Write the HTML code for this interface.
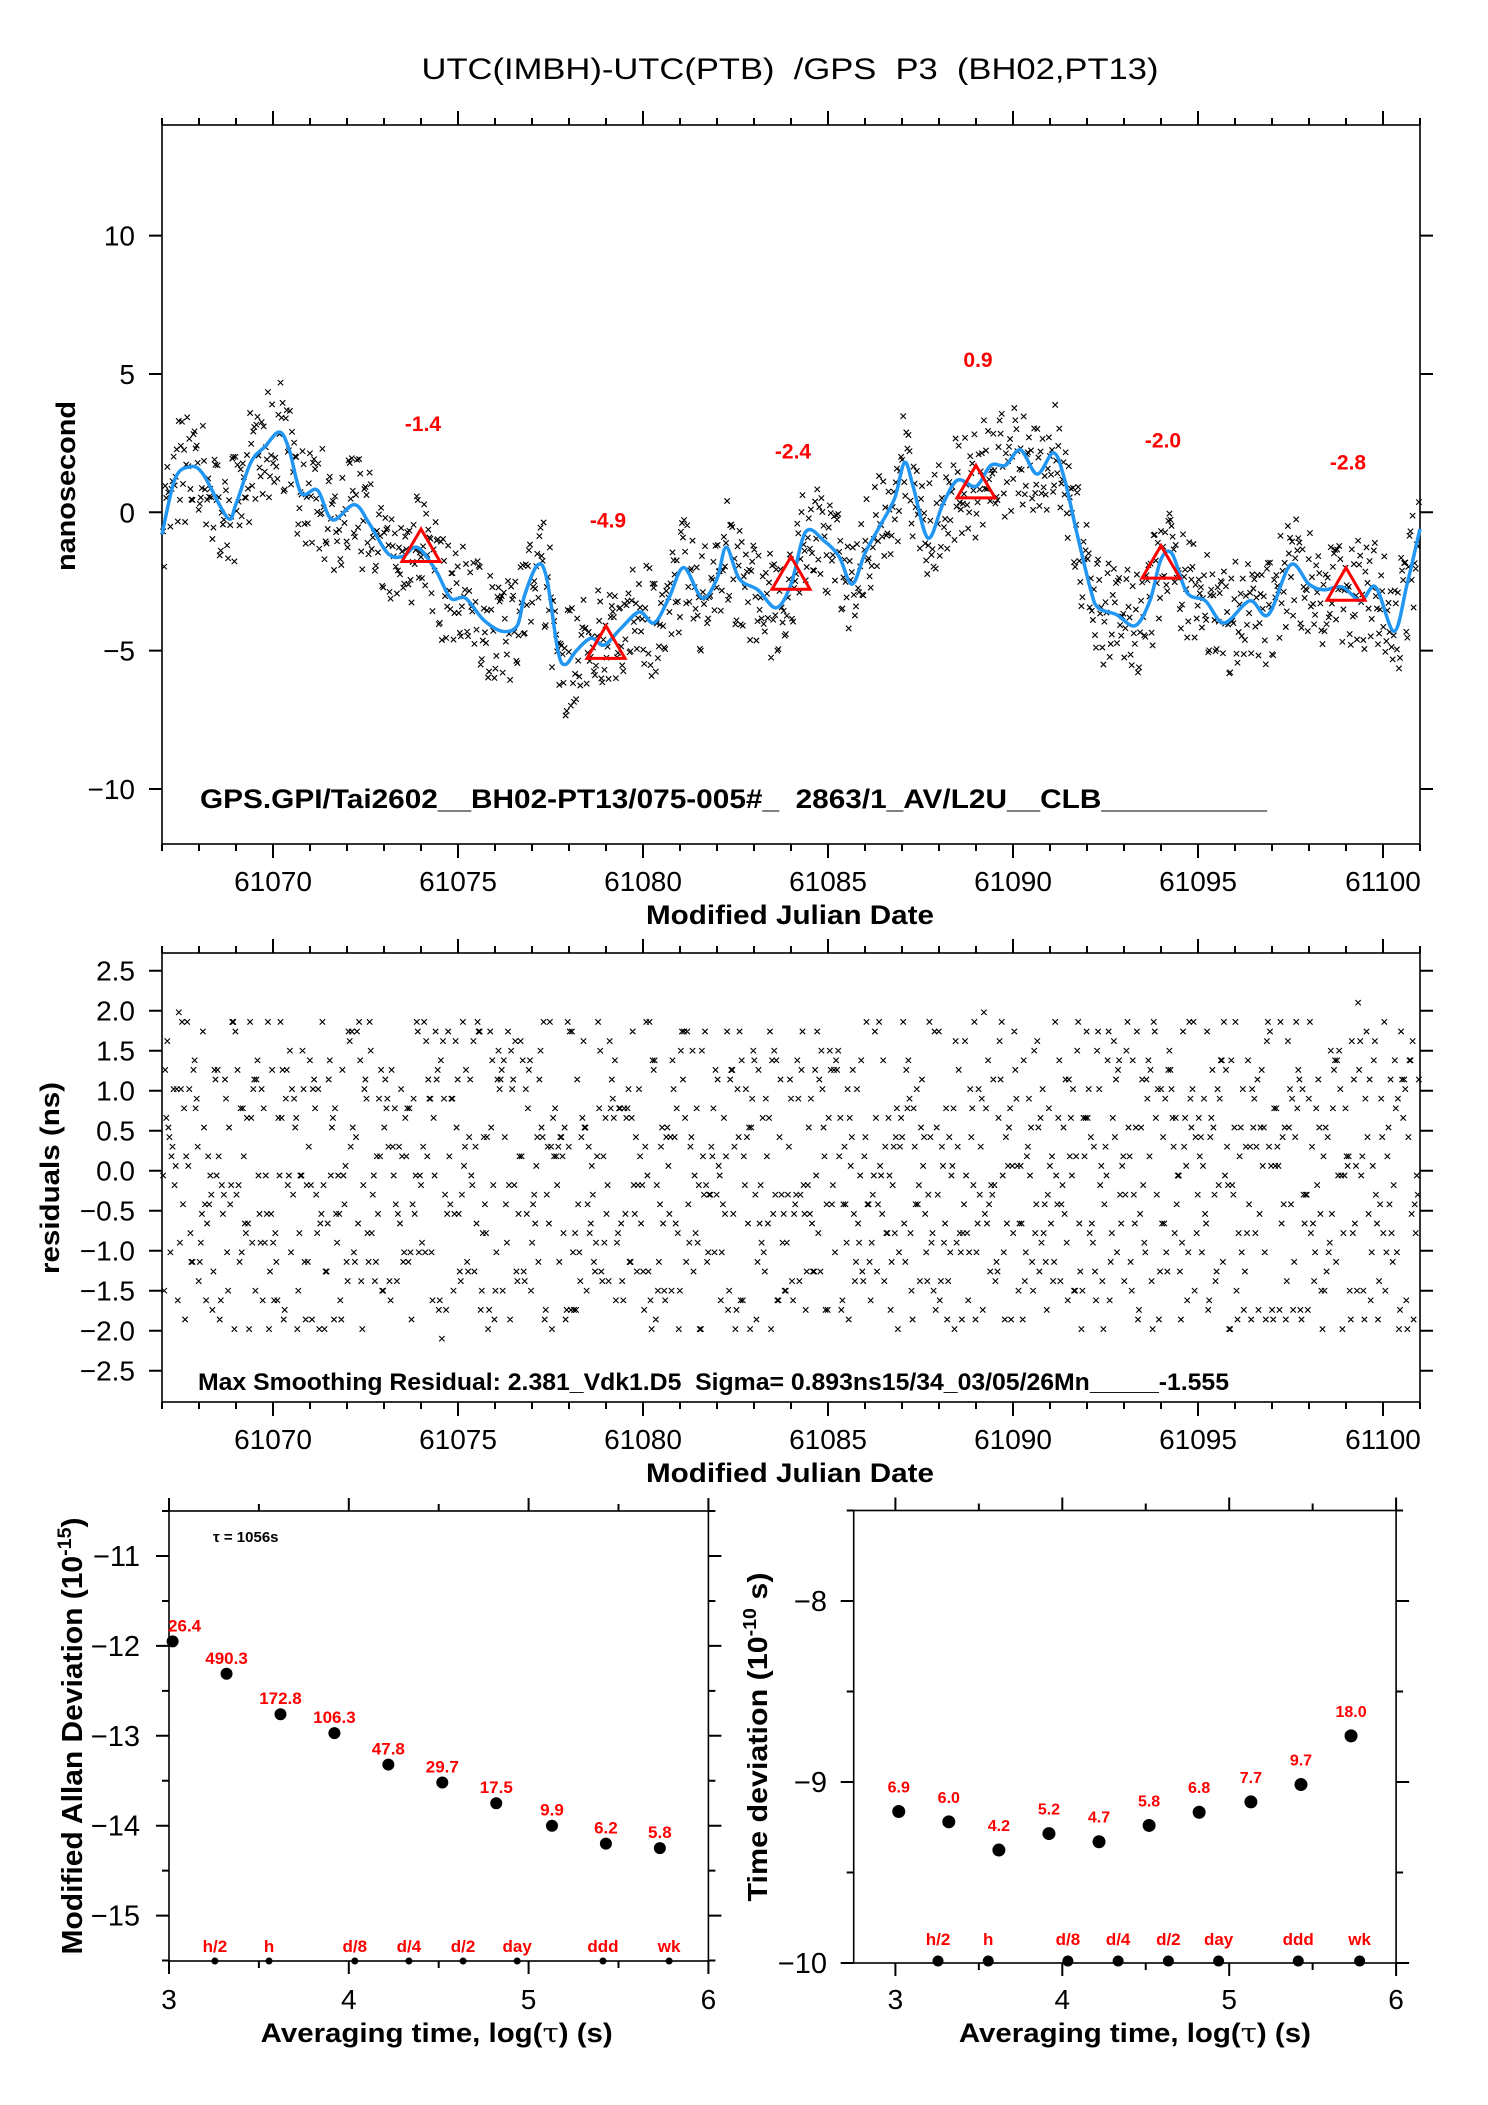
<!DOCTYPE html>
<html><head><meta charset="utf-8"><title>UTC(IMBH)-UTC(PTB) GPS P3</title>
<style>
html,body{margin:0;padding:0;background:#fff;}
svg{display:block;font-family:"Liberation Sans",Arial,sans-serif;}
text{white-space:pre;}
</style></head>
<body>
<svg id="chart" xmlns="http://www.w3.org/2000/svg" width="1488" height="2105" viewBox="0 0 1488 2105">
<rect x="0" y="0" width="1488" height="2105" fill="#fff"/>
<text x="790" y="79" font-size="30" text-anchor="middle" textLength="737" lengthAdjust="spacingAndGlyphs">UTC(IMBH)-UTC(PTB)  /GPS  P3  (BH02,PT13)</text>
<g id="top"></g>
<g id="mid"></g>
<g id="bl"></g>
<g id="br"></g>
</svg>
<script>
// ---- data ----
const smoothDays = [61067.0,61067.35,61067.74,61068.1,61068.77,61069.0,61069.4,61069.8,61070.17,61070.43,61070.76,61071.2,61071.6,61072.2,61072.6,61073.1,61073.5,61073.9,61074.4,61074.8,61075.2,61075.7,61076.2,61076.6,61076.8,61077.15,61077.4,61077.7,61077.9,61078.2,61078.6,61078.95,61079.4,61079.9,61080.3,61080.7,61081.1,61081.6,61082.0,61082.25,61082.6,61083.1,61083.6,61084.0,61084.4,61084.9,61085.3,61085.65,61086.0,61086.4,61086.8,61087.07,61087.3,61087.7,61088.1,61088.5,61089.0,61089.4,61089.8,61090.2,61090.65,61091.1,61091.4,61091.7,61092.1,61092.3,61092.8,61093.3,61093.7,61094.0,61094.3,61094.7,61095.2,61095.7,61096.4,61096.9,61097.5,61098.0,61098.4,61098.9,61099.4,61099.8,61100.3,61100.65,61101.0];
const smoothVals = [-0.8,1.2,1.64,1.4,-0.2,0.3,1.8,2.4,2.9,2.3,0.7,0.8,-0.27,0.28,-0.4,-1.48,-1.6,-1.27,-2.1,-3.1,-3.1,-3.9,-4.3,-4.1,-3.0,-1.9,-2.4,-5.0,-5.5,-5.0,-4.55,-4.8,-4.2,-3.6,-4.0,-3.1,-2.0,-3.1,-2.4,-1.26,-2.4,-2.8,-3.45,-2.6,-0.7,-1.04,-1.6,-2.6,-1.48,-0.5,0.5,1.8,0.94,-0.93,0.28,1.16,0.94,1.7,1.7,2.26,1.38,2.15,1.16,-0.6,-2.8,-3.45,-3.7,-4.1,-3.2,-1.7,-1.5,-2.9,-3.2,-4.0,-3.2,-3.7,-1.9,-2.6,-2.8,-2.7,-3.2,-2.7,-4.3,-2.6,-0.6];
const markDays = [61074,61079,61084,61089,61094,61099];
const markVals = [-1.4,-4.9,-2.4,0.9,-2.0,-2.8];
const markLabels = ["-1.4","-4.9","-2.4","0.9","-2.0","-2.8"];
// residuals encoded: char index in RES_ALPHA -> value (idx-17.5)*0.12 ns
const RES_ALPHA = "0123456789ABCDEFGHIJKLMNOPQRSTUVWXYZ";
const residualCodes = [
"H3Q9LCBT5MRE2RKQ8PGX4NDJ6UFS1OJW7CDVIM3YBL9ZGQ5KTE0NR8HX6AP2",
"MF8SJ4WBO7HCT2QLE9KV5GRA3NXD6IPU1JFL8TCQ4MHW7BSE3OKY5GRN9DJ",
"6TBK2PHX9EMR4LWC7QJF3UGN8ASD5OIV1KHT6BQM9FRL2XEJ4PCW7NGS3UAK",
"R5HD8MQJ2VBL6TFO9CKX4IPS7EGN1WHR3AMJ8QDU5LBT6OFK9XCI2SPG7NEH",
"4KQM7BFW2TJH9RDL5XCO8GSN3PEU6IAK1VHM4QBJ7TFR9DLW2OCS5NGX8EPI",
"J9CT3OHQ6LWB8FSM2RKD5XEP7GIU4NAJ1THB9QMF3KSW6DOL8REC2XJG5PNV",
"8PFN5SKW1GDR4MXB7QJE9TLH3OCV6IAU2KFP8NSD5WGB1RMJ4QEX7HTL9CO3",
"B2LX6EOJ9QHS4TCN7KRF1WDM5PGA8UIB3XLE6JQO9SHC4NTK7FRD2MWP5GVA",
"T7GQ3KNB5WFJ8ORL2DHX6SEM9CPU4IAG1QKT7BNF3JWO5LRD8XHS2EMC6PVI",
"3OWH8DMS1QKF6BRL9XEJ4TGN7PCA2VIU5HOW8MDQ1SKB6FLR9JXE4NTG7CPA",
"E6NJ2RVF8LBQ5TKH3XOD9MGS1WCP7IAE4JNU2FRL8BVQ5HTK3DXO9GMS6WCP",
"K1SD9GHT4QFN7BXL2MOE5WJR8CIA3PUK6DSG1HTQ9NFB4LXM7EOJ2RWC5IAV",
"5BRL7MWE2JDQ8TKO4SHF9XCN1GIA6PVB3RML5WEJ7DQT2KOS8HFX4CNG9IAU",
"Q8HX4NCK6TOF1JRM9WBL3DSE7GPA5IUQ2HXN8KCT6FOJ4MRW1BLD9SEG3PAV",
"W3FM6JKS9BDT2LQX5RHO8ECN4GVI7AUW1FMJ3KSB6TDL9QXR2HOE5CNG8VIA",
"9DJQ2SMH5XBF8KRT3OWL6NEC1GPU4AIJ9DQS7MHX2BFK5RTO8WLN3ECG6PUA",
"N4TB8LHQ1XJF6DWS9KMR2CEO5GIV3APN7TBL4HQX8JFD1WSK6MRC9EOG2IVU",
"G7XK3PLD9BSJ5QHM2TRF8WCO4NEA6IVG1XKP7LDB3SJQ9HMT5RFW2COE8NAU",
"C2MS6HQK8ROB4JXT1LFD7WGN5PEI9AUC3MSH6QKR2OBJ8XTL4FDW1GNP7EIV",
"S9KF3XJB7DMQ1THL5RWN8OCE2GPA4IUS6KFX9JBD3MQT7HLR1WNO5CEG8PAI"
];
const logTau = [3.02,3.32,3.62,3.92,4.22,4.52,4.82,5.13,5.43,5.73];
const mdevVals = [-11.95,-12.31,-12.76,-12.97,-13.32,-13.52,-13.75,-14.0,-14.2,-14.25];
const mdevLabels = ["26.4","490.3","172.8","106.3","47.8","29.7","17.5","9.9","6.2","5.8"];
const tdevVals = [-9.163,-9.22,-9.376,-9.285,-9.33,-9.24,-9.167,-9.11,-9.014,-8.745];
const tdevLabels = ["6.9","6.0","4.2","5.2","4.7","5.8","6.8","7.7","9.7","18.0"];
const refNames = ["h/2","h","d/8","d/4","d/2","day","ddd","wk"];
const refSeconds = [1800,3600,10800,21600,43200,86400,259200,604800];
const topYTicks = [-10,-5,0,5,10];
const midYTicks = [-2.5,-2.0,-1.5,-1.0,-0.5,0.0,0.5,1.0,1.5,2.0,2.5];
const xDayTicks = [61070,61075,61080,61085,61090,61095,61100];
const mdevYTicks = [-15,-14,-13,-12,-11];
const tdevYTicks = [-10,-9,-8];
const logTicks = [3,4,5,6];

// ---- scales ----
const SVGNS = "http://www.w3.org/2000/svg";
const X0 = 162, X1 = 1420, D0 = 61067, D1 = 61101;
const xD = d => X0 + (d - D0) * (X1 - X0) / (D1 - D0);
const TT = 125, TB = 844, yT = v => 512.3 - v * 27.67;
const MT = 953, MB = 1402, yM = v => 1170.7 - v * 80;
const LX0 = 169, LX1 = 708.4, xL = l => LX0 + (l - 3) * (LX1 - LX0) / 3;
const LT = 1511, LB = 1961, yL = v => 1556 - (v + 11) * 89.9;
const RX0 = 853.7, RX1 = 1396.1, xR = l => RX1 - (6 - l) * 166.9;
const RT = 1510.5, RB = 1963, yR = v => 1963 - (v + 10) * 181;

function el(parent, tag, attrs, txt) {
  const e = document.createElementNS(SVGNS, tag);
  for (const k in attrs) e.setAttribute(k, attrs[k]);
  if (txt !== undefined) e.textContent = txt;
  parent.appendChild(e);
  return e;
}
function fmt1(v){ return (v < 0 ? "\u2212" : "") + Math.abs(v).toFixed(1); }
function fmt0(v){ return (v < 0 ? "\u2212" : "") + Math.abs(v).toString(); }

function interp(d) {
  if (d <= smoothDays[0]) return smoothVals[0];
  for (let i = 1; i < smoothDays.length; i++) {
    if (d <= smoothDays[i]) {
      const f = (d - smoothDays[i-1]) / (smoothDays[i] - smoothDays[i-1]);
      return smoothVals[i-1] + f * (smoothVals[i] - smoothVals[i-1]);
    }
  }
  return smoothVals[smoothVals.length - 1];
}
const residuals = residualCodes.join("").split("").map(c => (RES_ALPHA.indexOf(c) - 17.5) * 0.12);
const NR = residuals.length;
// time slot of each residual (interleaved sampling order of the record)
const resDays = residuals.map((r, i) => D0 + 0.03 + ((i * 389) % NR) * (33.94 / (NR - 1)));

function frame(g, x0, y0, x1, y1, name) {
  const r = el(g, "rect", {x:x0, y:y0, width:x1-x0, height:y1-y0, fill:"none", stroke:"#000", "stroke-width":1.6});
  
  
}
function tickPath(g, d, name) {
  const p = el(g, "path", {d:d, stroke:"#000", "stroke-width":2, fill:"none"});
  
  
}
function label(g, x, y, txt, attrs, name) {
  const a = Object.assign({x:x, y:y}, attrs);
  const t = el(g, "text", a, txt);
  
  
  return t;
}
function xMarks(g, xs, ys, name) {
  let d = "";
  for (let i = 0; i < xs.length; i++) {
    const x = xs[i], y = ys[i];
    d += `M${(x-2.7).toFixed(1)},${(y-2.7).toFixed(1)}l5.4,5.4M${(x-2.7).toFixed(1)},${(y+2.7).toFixed(1)}l5.4,-5.4`;
  }
  const p = el(g, "path", {d:d, stroke:"#000", "stroke-width":1.1, fill:"none"});
  
  
}

// ---- day-axis plot helper ----
function dayAxes(g, top, bot, ticksY, yS, fmtY, prefix) {
  frame(g, X0, top, X1, bot, prefix + "-frame");
  let d = "";
  for (let day = D0; day <= D1; day++) {
    const L = day % 5 === 0 ? 14 : 7, x = xD(day);
    d += `M${x},${top}v${-L}M${x},${bot}v${L}`;
  }
  tickPath(g, d, prefix + "-x-ticks");
  d = "";
  ticksY.forEach(v => { const y = yS(v); d += `M${X0-13},${y}h13M${X1},${y}h13`; });
  tickPath(g, d, prefix + "-y-ticks");
  ticksY.forEach(v => label(g, 135, yS(v) + 10, fmtY(v), {"font-size":28, "text-anchor":"end"}, prefix + "-y-tick-label"));
  xDayTicks.forEach(v => label(g, xD(v), bot + 47, String(v), {"font-size":28, "text-anchor":"middle"}, prefix + "-x-tick-label"));
  label(g, 790, bot + 80, "Modified Julian Date", {"font-size":27, "font-weight":"bold", "text-anchor":"middle", textLength:288, lengthAdjust:"spacingAndGlyphs"}, prefix + "-x-axis-title");
}

// ---- top plot ----
const gT = document.getElementById("top");
dayAxes(gT, TT, TB, topYTicks, yT, fmt0, "top");
label(gT, 0, 0, "nanosecond", {"font-size":27, "font-weight":"bold", "text-anchor":"middle", textLength:170, lengthAdjust:"spacingAndGlyphs", transform:"translate(75,486) rotate(-90)"}, "top-y-axis-title");
xMarks(gT, resDays.map(xD), resDays.map((d, i) => yT(interp(d) + residuals[i])), "raw-data-points");
(function(){
  const pts = smoothDays.map((d, i) => [xD(d), yT(smoothVals[i])]);
  let d = `M${pts[0][0]},${pts[0][1]}`;
  for (let i = 0; i < pts.length - 1; i++) {
    const p0 = pts[Math.max(0, i-1)], p1 = pts[i], p2 = pts[i+1], p3 = pts[Math.min(pts.length-1, i+2)];
    const c1 = [p1[0] + (p2[0]-p0[0])/6, p1[1] + (p2[1]-p0[1])/6];
    const c2 = [p2[0] - (p3[0]-p1[0])/6, p2[1] - (p3[1]-p1[1])/6];
    d += `C${c1[0].toFixed(1)},${c1[1].toFixed(1)} ${c2[0].toFixed(1)},${c2[1].toFixed(1)} ${p2[0].toFixed(1)},${p2[1].toFixed(1)}`;
  }
  const p = el(gT, "path", {d:d, stroke:"#2196f3", "stroke-width":3.5, fill:"none", "stroke-linejoin":"round"});
  
  
})();
markDays.forEach((day, i) => {
  const x = xD(day), y = yT(markVals[i]);
  const t = el(gT, "path", {d:`M${x},${y-22}L${x+19},${y+10.5}L${x-19},${y+10.5}Z`, stroke:"#ff0000", "stroke-width":3, fill:"none"});
  
  
  label(gT, x + 2, yT(markVals[i] + 4.6) + 7, markLabels[i], {"font-size":21, "font-weight":"bold", fill:"#ff0000", "text-anchor":"middle"}, "daily-mean-label");
});
label(gT, 200, 808, "GPS.GPI/Tai2602__BH02-PT13/075-005#_  2863/1_AV/L2U__CLB__________", {"font-size":27, "font-weight":"bold", textLength:1067, lengthAdjust:"spacingAndGlyphs"}, "top-info-text");

// ---- residuals plot ----
const gM = document.getElementById("mid");
dayAxes(gM, MT, MB, midYTicks, yM, fmt1, "mid");
label(gM, 0, 0, "residuals (ns)", {"font-size":27, "font-weight":"bold", "text-anchor":"middle", textLength:192, lengthAdjust:"spacingAndGlyphs", transform:"translate(59,1178) rotate(-90)"}, "residuals-y-axis-title");
xMarks(gM, resDays.map(xD), residuals.map(yM), "residual-points");
label(gM, 198, 1390, "Max Smoothing Residual: 2.381_Vdk1.D5  Sigma= 0.893ns15/34_03/05/26Mn_____-1.555", {"font-size":24, "font-weight":"bold", textLength:1031, lengthAdjust:"spacingAndGlyphs"}, "residual-info-text");

// ---- log-tau axes helper ----
function logAxes(g, x0, x1, top, bot, xS, yticks, yminor, yS, labelX, prefix) {
  frame(g, x0, top, x1, bot, prefix + "-frame");
  let d = "";
  for (let l = 3; l <= 6.001; l += 0.5) {
    const L = Math.abs(l - Math.round(l)) < 0.01 ? 13 : 7, x = xS(l);
    d += `M${x},${top}v${-L}M${x},${bot}v${L}`;
  }
  tickPath(g, d, prefix + "-x-ticks");
  d = "";
  yticks.forEach(v => { const y = yS(v); d += `M${x0-13},${y}h13M${x1},${y}h13`; });
  yminor.forEach(v => { const y = yS(v); d += `M${x0-7},${y}h7M${x1},${y}h7`; });
  tickPath(g, d, prefix + "-y-ticks");
  yticks.forEach(v => label(g, labelX, yS(v) + 10, fmt0(v), {"font-size":29, "text-anchor":"end"}, prefix + "-y-tick-label"));
  logTicks.forEach(v => label(g, xS(v), 2009, String(v), {"font-size":28, "text-anchor":"middle"}, prefix + "-x-tick-label"));
  const t = label(g, (x0 + x1) / 2 + (prefix === "mdev" ? -2 : 10), 2042, "", {"font-size":27, "font-weight":"bold", "text-anchor":"middle", textLength:352, lengthAdjust:"spacingAndGlyphs"}, prefix + "-x-axis-title");
  t.appendChild(document.createTextNode("Averaging time, log("));
  const ts = el(t, "tspan", {"font-family":"\"DejaVu Serif\",serif", "font-weight":"normal"}, "\u03c4");
  
  
  t.appendChild(document.createTextNode(") (s)"));
}

// ---- MDEV plot ----
const gL = document.getElementById("bl");
logAxes(gL, LX0, LX1, LT, LB, xL, mdevYTicks, [-15.5,-14.5,-13.5,-12.5,-11.5,-10.5], yL, 140, "mdev");
(function(){
  const t = label(gL, 0, 0, "", {"font-size":29, "font-weight":"bold", "text-anchor":"middle", textLength:437, lengthAdjust:"spacingAndGlyphs", transform:"translate(82,1736) rotate(-90)"}, "mdev-y-axis-title");
  t.appendChild(document.createTextNode("Modified Allan Deviation (10"));
  const s = el(t, "tspan", {"font-size":19, dy:-11}, "-15");
  
  
  const c = el(t, "tspan", {dy:11}, ")");
  
  
})();
label(gL, 213, 1542, "\u03c4 = 1056s", {"font-size":15, "font-weight":"bold"}, "tau0-note");
logTau.forEach((l, i) => {
  const c = el(gL, "circle", {cx:xL(l), cy:yL(mdevVals[i]), r:6, fill:"#000"});
  
  
  label(gL, xL(l) + (i === 0 ? 12 : 0), yL(mdevVals[i]) - 10, mdevLabels[i], {"font-size":17, "font-weight":"bold", fill:"#ff0000", "text-anchor":"middle"}, "mdev-value-label");
});
refSeconds.forEach((s, i) => {
  const x = xL(Math.log10(s));
  const c = el(gL, "circle", {cx:x, cy:LB, r:3.5, fill:"#000"});
  
  
  label(gL, x, 1952, refNames[i], {"font-size":17, "font-weight":"bold", fill:"#ff0000", "text-anchor":"middle"}, "mdev-ref-label");
});

// ---- TDEV plot ----
const gR = document.getElementById("br");
logAxes(gR, RX0, RX1, RT, RB, xR, tdevYTicks, [-9.5,-8.5,-7.5], yR, 827, "tdev");
(function(){
  const t = label(gR, 0, 0, "", {"font-size":28, "font-weight":"bold", "text-anchor":"middle", textLength:329, lengthAdjust:"spacingAndGlyphs", transform:"translate(767,1737) rotate(-90)"}, "tdev-y-axis-title");
  t.appendChild(document.createTextNode("Time deviation (10"));
  const s = el(t, "tspan", {"font-size":18, dy:-11}, "-10");
  
  
  const c = el(t, "tspan", {dy:11}, " s)");
  
  
})();
logTau.forEach((l, i) => {
  const c = el(gR, "circle", {cx:xR(l), cy:yR(tdevVals[i]), r:6.5, fill:"#000"});
  
  
  label(gR, xR(l), yR(tdevVals[i]) - 19, tdevLabels[i], {"font-size":16, "font-weight":"bold", fill:"#ff0000", "text-anchor":"middle"}, "tdev-value-label");
});
refSeconds.forEach((s, i) => {
  const x = xR(Math.log10(s));
  const c = el(gR, "circle", {cx:x, cy:RB - 2, r:5.5, fill:"#000"});
  
  
  label(gR, x, 1945, refNames[i], {"font-size":17, "font-weight":"bold", fill:"#ff0000", "text-anchor":"middle"}, "tdev-ref-label");
});
</script>
</body></html>
